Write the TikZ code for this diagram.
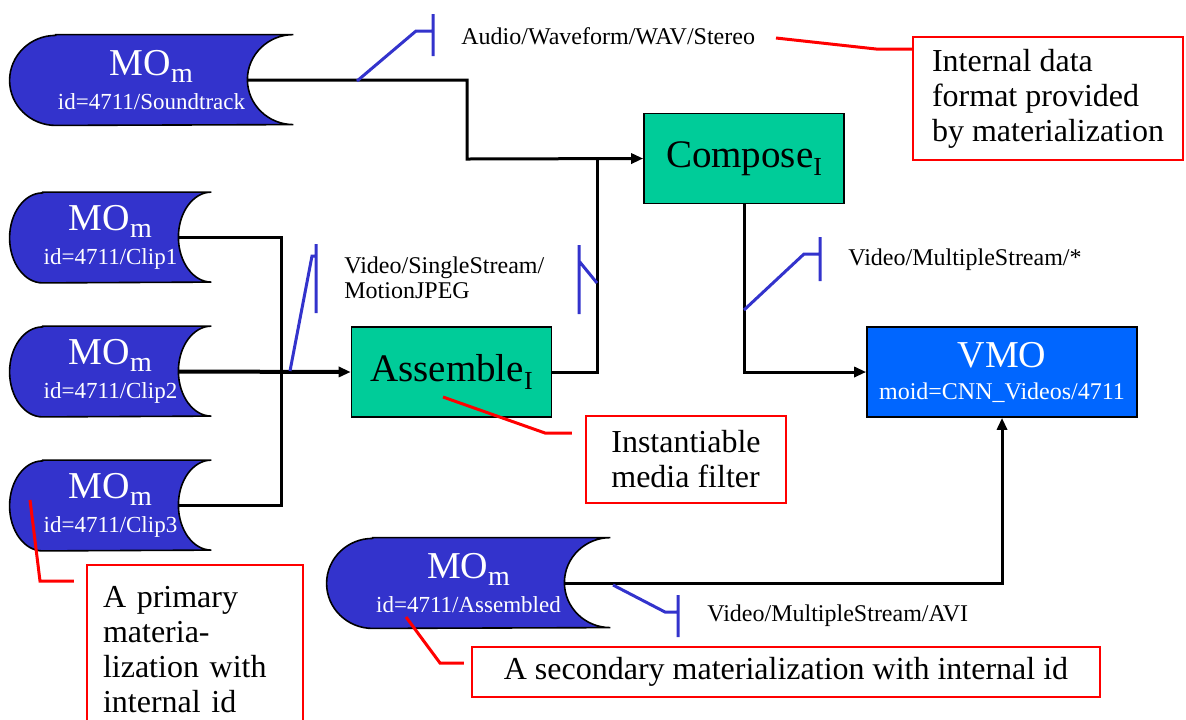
\documentclass[tikz,border=0pt]{standalone}
\usepackage{fontspec}
\setmainfont{Liberation Serif}
\usetikzlibrary{arrows.meta,backgrounds}

\definecolor{moblue}{RGB}{51,51,204}
\definecolor{filtergreen}{RGB}{0,204,153}
\definecolor{vmoblue}{RGB}{0,102,255}

\tikzset{
  mo/.style={inner sep=0pt, minimum height=45pt, text=white, align=center,
    font=\fontsize{19}{17}\selectfont},
  filter/.style={draw=black, line width=0.8pt, fill=filtergreen, minimum width=100pt,
    minimum height=45pt, font=\fontsize{19.5}{20}\selectfont},
  vmobox/.style={draw=black, line width=0.8pt, fill=vmoblue, text=white, align=center,
    minimum width=135pt, minimum height=45pt, font=\fontsize{19}{16}\selectfont},
  note/.style={draw=red, line width=1.2pt, align=left, font=\fontsize{16}{17.5}\selectfont},
  lbl/.style={inner sep=0pt, align=left, font=\fontsize{12}{12.5}\selectfont},
  conn/.style={line width=1.5pt},
  callout/.style={draw=red, line width=1.5pt},
  flag/.style={draw=moblue, line width=1.5pt},
  >={Triangle[length=6pt,width=5pt]}
}

% media object: round left end, hollow right end
\newcommand\moshape[2]{%
  \begin{pgfonlayer}{background}
    \draw[fill=moblue, line width=0.8pt] ([xshift=#2]#1.north west) -- (#1.north east)
      arc[start angle=90, end angle=270, x radius=#2, y radius=22.5pt]
      -- ([xshift=#2]#1.south west)
      arc[start angle=270, end angle=90, x radius=#2, y radius=22.5pt] -- cycle;
  \end{pgfonlayer}
  \coordinate (#1-out) at ([xshift=-#2]#1.east);
}

\newcommand\moname{MO\raisebox{-3.5pt}{\fontsize{14}{14}\selectfont m}}
\newcommand\sublow[1]{\raisebox{-4pt}{\fontsize{13}{13}\selectfont #1}}
\newcommand\idtext[1]{{\fontsize{11.5}{13}\selectfont #1}}

\begin{document}
\begin{tikzpicture}[x=0.5pt,y=-0.5pt]
  \useasboundingbox (0,0) rectangle (1186,719);

  % media objects
  \node[mo, minimum width=141.5pt] (snd) at (151.5,80) {\moname\\\idtext{id=4711/Soundtrack}};
  \node[mo, minimum width=100.5pt] (clipA) at (110.5,237.5) {\moname\\\idtext{id=4711/Clip1}};
  \node[mo, minimum width=100.5pt] (clipB) at (110.5,371.5) {\moname\\\idtext{id=4711/Clip2}};
  \node[mo, minimum width=100.5pt] (clipC) at (110.5,505.5) {\moname\\\idtext{id=4711/Clip3}};
  \node[mo, minimum width=141.5pt] (asmd) at (468.5,583) {\moname\\\idtext{id=4711/Assembled}};
  \moshape{snd}{23pt}
  \moshape{clipA}{16.5pt}
  \moshape{clipB}{16.5pt}
  \moshape{clipC}{16.5pt}
  \moshape{asmd}{23pt}

  % filters and result
  \node[filter] (assemble) at (451.5,372) {Assemble\sublow{I}};
  \node[filter] (compose) at (744,158.5) {Compose\sublow{I}};
  \node[vmobox] (vmo) at (1002,372) {VMO\\{\fontsize{12}{13}\selectfont moid=CNN\_Videos/4711}};

  % connectors
  \coordinate (j1) at (467,159);
  \coordinate (j2) at (597,159);
  \coordinate (bus) at (281,371.5);
  \draw[conn,->] (snd-out) -| (j1) -- (compose.west);
  \draw[conn] (assemble.east) -| (j2);
  \draw[conn] (clipA-out) -| (bus) |- (clipC-out);
  \draw[line width=2pt,->] (clipB-out) -- (assemble.west);
  \draw[conn,->] (compose.south) |- (vmo.west);
  \draw[conn,->] (asmd-out) -| (vmo.south);

  % data format flags
  \foreach \a/\b/\c/\t/\u in {{357,81}/{416,31}/{433,31}/{433,14}/{433,56},
                             {290,371}/{312,256}/{316,256}/{316,244}/{316,313},
                             {597,283}/{579,261}/{579,261}/{579,245}/{579,314},
                             {744,310}/{804,254}/{820,254}/{820,237}/{820,281},
                             {613,585}/{665,612}/{678,612}/{678,595}/{678,637}}
    \draw[flag] (\a) -- (\b) -- (\c) (\t) -- (\u);

  \node[lbl, anchor=base west] (fmtAudio) at (461,44) {Audio/Waveform/WAV/Stereo};
  \node[lbl, anchor=north west] (fmtSingle) at (344,256) {Video/SingleStream/\\MotionJPEG};
  \node[lbl, anchor=base west] (fmtMulti) at (848,265) {Video/MultipleStream/*};
  \node[lbl, anchor=base west] (fmtAvi) at (707,621) {Video/MultipleStream/AVI};

  % explanations
  \node[note, minimum width=135pt, minimum height=61.5pt] (noteFmt) at (1048,98.5)
    {Internal data\\format provided\\by materialization};
  \node[note, minimum width=100pt, minimum height=43.5pt] (noteFilter) at (686,459.5)
    {Instantiable\\media filter};
  \node[note, text width=92pt, inner xsep=8pt, minimum height=85pt] (notePrim) at (195,650)
    {A primary\\materia-\\lization with\\internal id};
  \node[note, minimum width=314pt, minimum height=25pt] (noteSec) at (786,672)
    {A secondary materialization with internal id};

  \coordinate (c1a) at (776,38);  \coordinate (c1b) at (876,49);
  \coordinate (c2a) at (443,397); \coordinate (c2b) at (545,433);
  \coordinate (c3a) at (30,500);  \coordinate (c3b) at (40,581);
  \coordinate (c4a) at (406,617); \coordinate (c4b) at (440,663);
  \draw[callout] (c1a) -- (c1b) -- (noteFmt.west |- c1b);
  \draw[callout, shorten >=6.5pt] (c2a) -- (c2b) -- (noteFilter.west |- c2b);
  \draw[callout, shorten >=6pt] (c3a) -- (c3b) -- (notePrim.west |- c3b);
  \draw[callout, shorten >=3.5pt] (c4a) -- (c4b) -- (noteSec.west |- c4b);
\end{tikzpicture}
\end{document}
